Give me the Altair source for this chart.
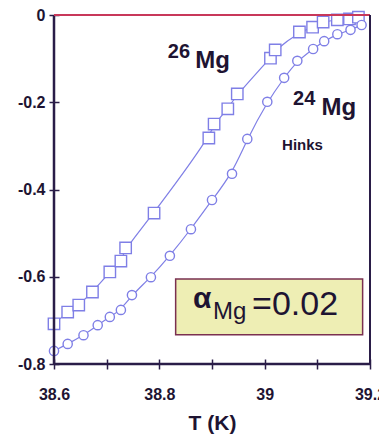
import altair as alt
import pandas as pd

# 26Mg (squares)
sq_T = [38.600, 38.626, 38.647, 38.673, 38.706, 38.727, 38.736, 38.790, 38.894, 38.904,
        38.930, 38.948, 39.011, 39.020, 39.066, 39.091, 39.111, 39.138, 39.161, 39.178]
sq_v = [-0.708, -0.681, -0.665, -0.635, -0.589, -0.564, -0.534, -0.454, -0.282, -0.250,
        -0.215, -0.181, -0.099, -0.080, -0.039, -0.028, -0.016, -0.011, -0.009, -0.005]
# 24Mg (circles)
ci_T = [38.600, 38.626, 38.656, 38.683, 38.706, 38.727, 38.748, 38.784, 38.820, 38.860,
        38.900, 38.938, 38.967, 39.005, 39.037, 39.062, 39.092, 39.113, 39.138, 39.163, 39.184]
ci_v = [-0.770, -0.754, -0.734, -0.711, -0.692, -0.676, -0.642, -0.601, -0.552, -0.491,
        -0.424, -0.364, -0.284, -0.199, -0.144, -0.105, -0.078, -0.060, -0.044, -0.034, -0.023]

x_ticks = [38.6, 38.7, 38.8, 38.9, 39.0, 39.1, 39.2]
y_ticks = [0, -0.2, -0.4, -0.6, -0.8]

FONT = "Liberation Sans"
MARK = "#7f7fe6"
DARK = "#2a1d48"
TXT = "#1e1432"

sq = pd.DataFrame({"T": sq_T, "v": sq_v})
ci = pd.DataFrame({"T": ci_T, "v": ci_v})

xs = alt.Scale(domain=[38.6, 39.2], nice=False, zero=False)
ys = alt.Scale(domain=[-0.8, 0], nice=False, zero=False)

xax = alt.Axis(values=x_ticks, grid=False, domain=False, offset=-5, tickSize=10,
               tickColor=DARK, tickWidth=1.5,
               labelExpr="abs(round(datum.value*10)) % 2 == 0 ? format(datum.value, '~g') : ''",
               labelFont=FONT, labelFontSize=16, labelFontWeight="bold", labelColor=TXT,
               labelPadding=17, labelFlush=False,
               title="T (K)", titleFont=FONT, titleFontSize=21, titleFontWeight="bold",
               titleColor=TXT, titleBaseline="alphabetic", titleY=70)
yax = alt.Axis(values=y_ticks, grid=False, domain=False, offset=-5, tickSize=10,
               tickColor=DARK, tickWidth=1.5,
               labelExpr="datum.value == 0 ? '0' : '-' + format(abs(datum.value), '.1f')",
               labelFont=FONT, labelFontSize=16, labelFontWeight="bold", labelColor=TXT,
               labelPadding=4, title=None)

base_x = alt.X("T:Q", scale=xs, axis=xax)
base_y = alt.Y("v:Q", scale=ys, axis=yax)

sq_line = alt.Chart(sq).mark_line(color=MARK, strokeWidth=1.2, interpolate="basis").encode(x=base_x, y=base_y)
ci_line = alt.Chart(ci).mark_line(color=MARK, strokeWidth=1.2, interpolate="basis").encode(x="T:Q", y="v:Q")
sq_pts = alt.Chart(sq).mark_point(shape="square", size=130, filled=True, fill="white",
                                  stroke=MARK, strokeWidth=1.4, opacity=1).encode(x="T:Q", y="v:Q")
ci_pts = alt.Chart(ci).mark_point(shape="circle", size=85, filled=True, fill="white",
                                  stroke=MARK, strokeWidth=1.4, opacity=1).encode(x="T:Q", y="v:Q")

# frame
left = alt.Chart().mark_rule(color=DARK, strokeWidth=2.5).encode(x=alt.datum(38.6))
bottom = alt.Chart().mark_rule(color=DARK, strokeWidth=2.5).encode(y=alt.datum(-0.8))
top = alt.Chart().mark_rule(color="#c8385a", strokeWidth=2).encode(y=alt.datum(0))
right = alt.Chart().mark_rule(color=DARK, strokeWidth=2).encode(x=alt.datum(39.2))

# annotation box
box_df = pd.DataFrame({"x": [38.831], "x2": [39.186], "y": [-0.605], "y2": [-0.733]})
box = alt.Chart(box_df).mark_rect(fill="#eeeeb4", stroke="#7a3050", strokeWidth=1.5).encode(
    x="x:Q", x2="x2:Q", y="y:Q", y2="y2:Q")

def txt(t, x, y, size, weight="bold", color=TXT):
    d = pd.DataFrame({"t": [t], "x": [x], "y": [y]})
    return alt.Chart(d).mark_text(font=FONT, fontSize=size, fontWeight=weight, color=color,
                                  align="left", baseline="alphabetic").encode(
        x="x:Q", y="y:Q", text="t:N")

labels = [
    txt("26", 38.816, -0.0986, 20),
    txt("Mg", 38.868, -0.1215, 24),
    txt("24", 39.054, -0.206, 20),
    txt("Mg", 39.108, -0.229, 24),
    txt("Hinks", 39.033, -0.309, 15),
    txt("α", 38.864, -0.672, 30),
    txt("Mg", 38.902, -0.697, 24, weight="normal"),
    txt("=0.02", 38.976, -0.688, 34, weight="normal"),
]

chart = alt.layer(sq_line, ci_line, sq_pts, ci_pts, box, *labels, left, bottom, top, right).properties(
    width=316, height=349,
    autosize=alt.AutoSizeParams(type="none"),
    padding={"left": 54, "top": 15, "right": 9, "bottom": 76},
).configure_view(stroke=None)

chart.save("out.html", embed_options={"renderer": "svg", "actions": False})
